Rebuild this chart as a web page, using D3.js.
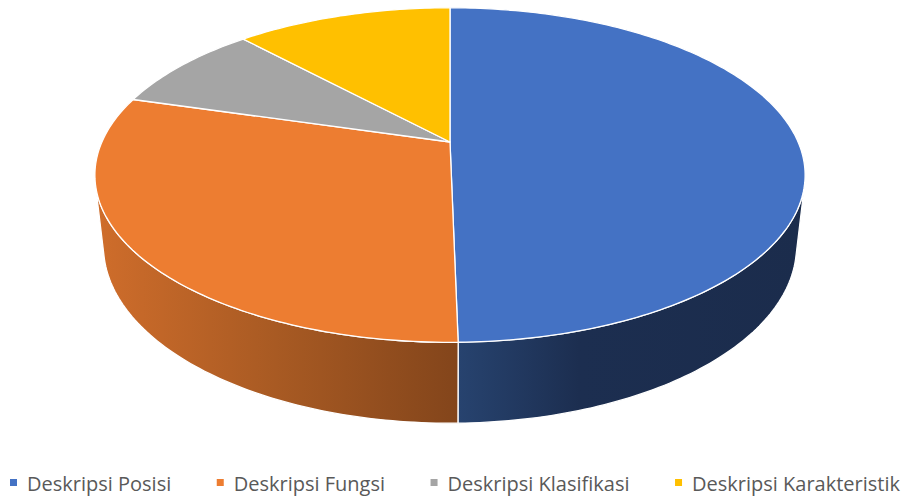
<!DOCTYPE html>
<html>
<head>
<meta charset="utf-8">
<script src="https://cdn.jsdelivr.net/npm/d3@7"></script>
<style>
  body { margin: 0; background: #fff; }
  svg { display: block; }
</style>
</head>
<body>
<div id="container"></div>
<script>
const WIDTH = 907;
const HEIGHT = 500;

const categories = ["Deskripsi Posisi", "Deskripsi Fungsi", "Deskripsi Klasifikasi", "Deskripsi Karakteristik"];
const values = [49.7, 29.8, 8.6, 11.9];
const colors = ["#4472c4", "#ed7d31", "#a5a5a5", "#ffc000"];
const sideColors = [["#27436f", "#1c2e50", "#1b2c4c"], ["#cf6d2b", "#a85a23", "#83451b"], ["#7a7a7a", "#6a6a6a", "#5a5a5a"], ["#c49200", "#a88000", "#8c6c00"]];

// perspective camera for the 3d pie
const CX = 450;
const CY = 142;
const PHI = (27.5 * Math.PI) / 180;
const DIST = 4.49;
const FOCAL = 1563;
const DEPTH = 0.232;

function project(x, y, z) {
  const yc = y * Math.cos(PHI) - z * Math.sin(PHI);
  const d = DIST - (y * Math.sin(PHI) + z * Math.cos(PHI));
  return [CX + (FOCAL * x) / d, CY - (FOCAL * yc) / d];
}
const ring = (theta, y) => project(Math.sin(theta), y, -Math.cos(theta));

function arcPoints(a0, a1, y) {
  const n = Math.max(2, Math.ceil(((a1 - a0) * 180) / Math.PI));
  return d3.range(n + 1).map((i) => ring(a0 + ((a1 - a0) * i) / n, y));
}

const svg = d3
  .select("div#container")
  .append("svg")
  .attr("width", WIDTH)
  .attr("height", HEIGHT);

const pie = d3.pie().sort(null).value((d) => d);
const arcs = pie(values);
const color = d3.scaleOrdinal().domain(categories).range(colors);
const line = d3.line();

// outer wall is only seen where it faces the camera
const visMin = Math.acos(-1 / (DIST * Math.cos(PHI)));
const visMax = 2 * Math.PI - visMin;

const defs = svg.append("defs");
const walls = svg.append("g");
arcs.forEach((a, i) => {
  const a0 = Math.max(a.startAngle, visMin);
  const a1 = Math.min(a.endAngle, visMax);
  if (a1 <= a0) return;
  const top = arcPoints(a0, a1, 0);
  const bottom = arcPoints(a0, a1, -DEPTH).reverse();
  const pts = top.concat(bottom);
  const xs = d3.extent(pts, (p) => p[0]);
  const grad = defs
    .append("linearGradient")
    .attr("id", "side" + i)
    .attr("gradientUnits", "userSpaceOnUse")
    .attr("x1", xs[0])
    .attr("x2", xs[1])
    .attr("y1", 0)
    .attr("y2", 0);
  const sc = i === 0 ? sideColors[i] : sideColors[i];
  grad.append("stop").attr("offset", "0%").attr("stop-color", sc[0]);
  grad.append("stop").attr("offset", i === 0 ? "35%" : "50%").attr("stop-color", sc[1]);
  grad.append("stop").attr("offset", "100%").attr("stop-color", sc[2]);
  walls
    .append("path")
    .attr("d", line(pts) + "Z")
    .attr("fill", `url(#side${i})`)
    .attr("stroke", "#fff")
    .attr("stroke-width", 1.3)
    .attr("stroke-linejoin", "round");
});

svg
  .append("g")
  .selectAll("path")
  .data(arcs)
  .enter()
  .append("path")
  .attr("d", (a) => line([project(0, 0, 0)].concat(arcPoints(a.startAngle, a.endAngle, 0))) + "Z")
  .attr("fill", (a, i) => color(categories[i]))
  .attr("stroke", "#fff")
  .attr("stroke-width", 1.3)
  .attr("stroke-linejoin", "round");

// legend
const legend = svg.append("g").attr("font-family", "'Open Sans', sans-serif").attr("font-size", 20);
const items = legend
  .selectAll("g")
  .data(categories)
  .enter()
  .append("g");
items
  .append("rect")
  .attr("width", 7)
  .attr("height", 7)
  .attr("y", 479)
  .attr("fill", (d) => color(d));
items
  .append("text")
  .attr("x", 17)
  .attr("y", 491)
  .attr("fill", "#595959")
  .text((d) => d);

const widths = [];
items.each(function () {
  widths.push(17 + d3.select(this).select("text").node().getComputedTextLength());
});
const gap = (900 - 10 - d3.sum(widths)) / (widths.length - 1);
let pos = 10;
items.attr("transform", (d, i) => {
  const t = `translate(${pos},0)`;
  pos += widths[i] + gap;
  return t;
});
</script>
</body>
</html>
